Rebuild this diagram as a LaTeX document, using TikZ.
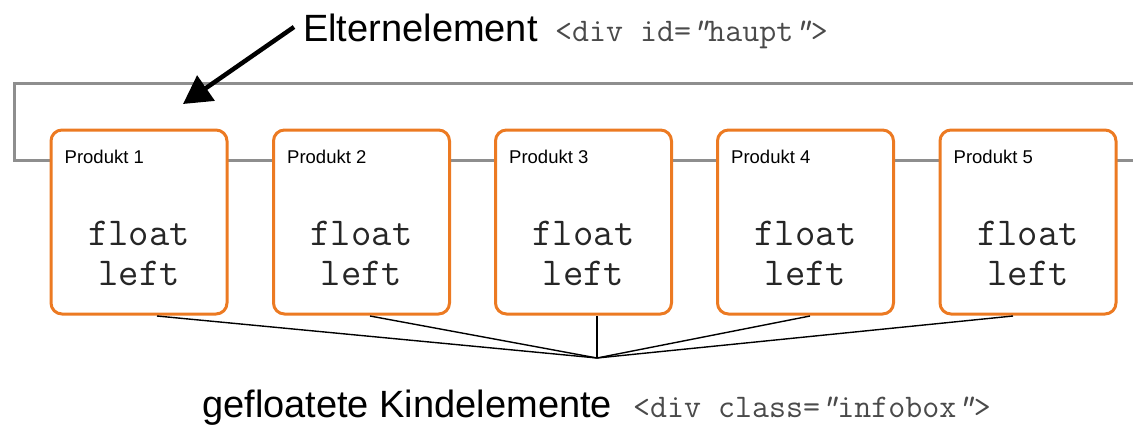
\documentclass[tikz,border=0pt]{standalone}
\usepackage{fontspec}
\setmainfont{Liberation Sans}
\usetikzlibrary{arrows.meta,calc}
\definecolor{boxorange}{HTML}{EC7A22}
\definecolor{parentgray}{HTML}{8E8E8E}
\definecolor{codegray}{HTML}{4A4A4A}
\newcommand\slq{{\itshape\char"0022}}
\tikzset{
  prodbox/.style={draw=boxorange, line width=3pt, rounded corners=11pt, fill=white,
    minimum width=176pt, minimum height=184pt, inner sep=0pt},
  prodlabel/.style={anchor=west, inner sep=0pt, font=\fontsize{18.5}{20}\selectfont},
  floattext/.style={align=center, inner sep=0pt, text=black!85,
    font=\ttfamily\fontsize{39.5}{40}\selectfont},
  bigtext/.style={anchor=base west, inner sep=0pt, font=\fontsize{38}{44}\selectfont},
  codetext/.style={anchor=base west, inner sep=0pt, text=codegray,
    font=\ttfamily\fontsize{33}{36}\selectfont},
  parentline/.style={draw=parentgray, line width=3pt},
  connector/.style={draw=black, line width=1.4pt},
  bigarrow/.style={draw=black, line width=4.5pt, -{Triangle[length=28pt,width=30pt]}}
}
\begin{document}
\begin{tikzpicture}[x=1pt,y=-1pt]
\useasboundingbox (0,0) rectangle (1133,424);
% parent element
\coordinate (pTR) at (1136,83);
\coordinate (pTL) at (14,83);
\coordinate (pBL) at (14,160);
\coordinate (pBR) at (1136,160);
\draw[parentline] (pTR) -- (pTL) -- (pBL) -- (pBR);
% boxes
\foreach \i/\x in {1/139,2/361.5,3/583.5,4/805.5,5/1028}{
  \node[prodbox] (b\i) at (\x,222) {};
  \node[prodlabel] (p\i) at ($(b\i.north west)+(15,28)$) {Produkt \i};
  \node[floattext] (f\i) at ($(b\i.center)+(0,31)$) {float\\left};
}
% connectors to common point
\coordinate (m) at (597,358);
\coordinate (s1) at (157,316);
\coordinate (s2) at (370,316);
\coordinate (s3) at (597,316);
\coordinate (s4) at (810,316);
\coordinate (s5) at (1013,316);
\foreach \i in {1,2,3,4,5}{ \draw[connector] (s\i) -- (m); }
% labels
\node[bigtext] (eltern) at (303,41) {Elternelement};
\node[codetext] (hauptcode) at (555,41) {<div id=\slq haupt\slq>};
\node[bigtext] (kind) at (202,417) {gefloatete Kindelemente};
\node[codetext] (infocode) at (633,417) {<div class=\slq infobox\slq>};
% arrow
\coordinate (atail) at (294,27);
\coordinate (ahead) at (183,104);
\draw[bigarrow] (atail) -- (ahead);
\end{tikzpicture}
\end{document}
